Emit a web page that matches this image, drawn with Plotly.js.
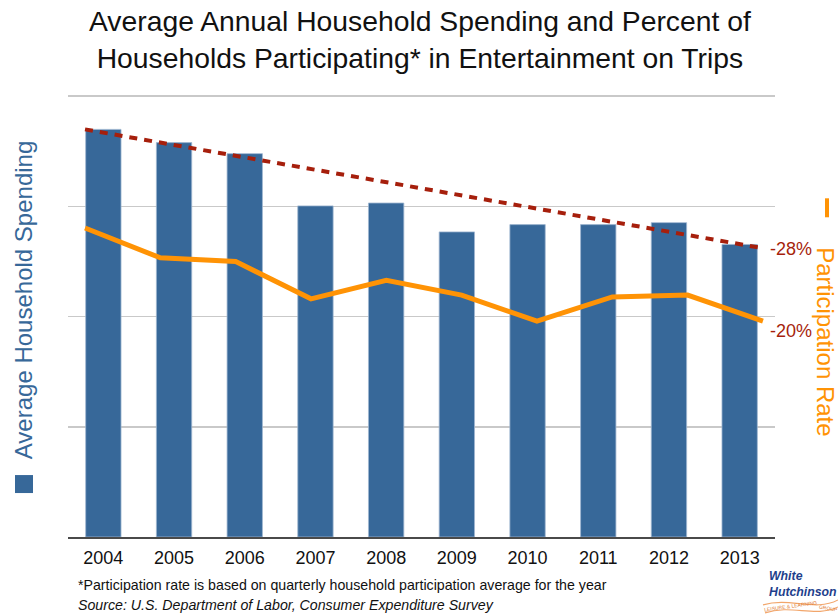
<!DOCTYPE html>
<html>
<head>
<meta charset="utf-8">
<script src="https://cdn.plot.ly/plotly-3.0.1.min.js"></script>
<style>
  html, body { margin: 0; padding: 0; background: #ffffff; }
  #chart { width: 838px; height: 616px; }
</style>
</head>
<body>
<div id="chart"></div>
<script>
// ---- Data (spending units estimated) ----
const years = ['2004', '2005', '2006', '2007', '2008', '2009', '2010', '2011', '2012', '2013'];
const spending = [184.9, 178.9, 173.9, 150.2, 151.5, 138.4, 141.7, 141.7, 142.6, 132.7];
const participation = [25.0, 23.4, 23.2, 21.2, 22.2, 21.4, 20.0, 21.3, 21.4, 20.0];
const trendYears = ['2004', '2013'];
const trendValues = [184.9, 131.0];
const spendingTicks = [0, 50, 100, 150, 200];

const lineYears = years.map(Number);
const trendX = trendYears.map(Number);
const spendChange = Math.round((spending[spending.length - 1] / spending[0] - 1) * 100);
const partChange = Math.round((participation[participation.length - 1] / participation[0] - 1) * 100);

// ---- geometry helpers (page px -> paper) ----
const W = 838, H = 616;
const mL = 68, mR = 63, mT = 94.6, mB = 79;
const pw = W - mL - mR, ph = H - mT - mB;
const px = x => (x - mL) / pw;
const py = y => (H - mB - y) / ph;

const FONT = '"Liberation Sans", Arial, Helvetica, sans-serif';
const BLUE = '#376899';
const ORANGE = '#ff9305';
const RED = '#a61f0c';

const traces = [
  {
    type: 'bar', x: years, y: spending, xaxis: 'x', yaxis: 'y',
    marker: { color: BLUE, line: { color: '#9fb6d0', width: 0.8 } },
    hoverinfo: 'x+y', showlegend: false
  },
  {
    type: 'scatter', mode: 'lines', x: trendX, y: trendValues, xaxis: 'x2', yaxis: 'y',
    line: { color: RED, width: 4, dash: '8px,7px' }, hoverinfo: 'skip', showlegend: false
  },
  {
    type: 'scatter', mode: 'lines', x: lineYears, y: participation, xaxis: 'x2', yaxis: 'y2',
    line: { color: ORANGE, width: 5, shape: 'linear' }, showlegend: false
  }
];

const layout = {
  width: W, height: H,
  margin: { l: mL, r: mR, t: mT, b: mB, pad: 0 },
  paper_bgcolor: '#ffffff', plot_bgcolor: '#ffffff',
  font: { family: FONT, color: '#111111' },
  showlegend: false,
  bargap: 0.5,
  xaxis: {
    type: 'category', range: [-0.5, 9.5], showgrid: false, zeroline: false,
    showline: true, linecolor: '#4a4a4a', linewidth: 1.5,
    ticks: '', tickfont: { size: 18, color: '#111111', family: FONT },
    ticklabelstandoff: 4, fixedrange: true
  },
  xaxis2: {
    overlaying: 'x', range: [2003.774, 2013.16], visible: false, fixedrange: true
  },
  yaxis: {
    range: [0, 200.5], tickvals: spendingTicks, showticklabels: false,
    showgrid: true, gridcolor: '#c9c9c9', gridwidth: 1.5, zeroline: false,
    showline: false, ticks: '', fixedrange: true
  },
  yaxis2: {
    overlaying: 'y', range: [8.425, 32.135], visible: false, fixedrange: true
  },
  shapes: [
    // legend square for spending
    { type: 'rect', xref: 'paper', yref: 'paper', x0: px(15), x1: px(33), y0: py(493), y1: py(475),
      fillcolor: BLUE, line: { width: 0 } },
    // legend line for participation
    { type: 'line', xref: 'paper', yref: 'paper', x0: px(827), x1: px(827), y0: py(217), y1: py(198),
      line: { color: ORANGE, width: 4 } },
    // logo swoosh
    { type: 'path', xref: 'paper', yref: 'paper',
      path: 'M ' + px(763) + ',' + py(605) + ' C ' + px(790) + ',' + py(597) + ' ' + px(815) + ',' + py(612) + ' ' + px(838) + ',' + py(600),
      line: { color: '#f2a66b', width: 1.2 } },
    { type: 'path', xref: 'paper', yref: 'paper',
      path: 'M ' + px(765) + ',' + py(613) + ' C ' + px(792) + ',' + py(604) + ' ' + px(815) + ',' + py(618) + ' ' + px(838) + ',' + py(607),
      line: { color: '#f2a66b', width: 1.2 } }
  ],
  annotations: [
    { text: 'Average Annual Household Spending and Percent of<br>Households Participating* in Entertainment on Trips',
      xref: 'paper', yref: 'paper', x: px(420), y: py(39), xanchor: 'center', yanchor: 'middle',
      showarrow: false, align: 'center', font: { size: 28.3, color: '#111111', family: FONT } },
    { text: 'Average Household Spending', xref: 'paper', yref: 'paper', x: px(23), y: py(300),
      xanchor: 'center', yanchor: 'middle', textangle: -90, showarrow: false,
      font: { size: 24, color: BLUE, family: FONT } },
    { text: 'Participation Rate', xref: 'paper', yref: 'paper', x: px(826), y: py(341),
      xanchor: 'center', yanchor: 'middle', textangle: 90, showarrow: false,
      font: { size: 24, color: ORANGE, family: FONT } },
    { text: spendChange + '%', xref: 'paper', yref: 'paper', x: px(768), y: py(249),
      xanchor: 'left', yanchor: 'middle', showarrow: false,
      font: { size: 18, color: RED, family: FONT } },
    { text: partChange + '%', xref: 'paper', yref: 'paper', x: px(768), y: py(331),
      xanchor: 'left', yanchor: 'middle', showarrow: false,
      font: { size: 18, color: RED, family: FONT } },
    { text: '*Participation rate is based on quarterly household participation average for the year',
      xref: 'paper', yref: 'paper', x: px(76), y: py(585), xanchor: 'left', yanchor: 'middle',
      showarrow: false, font: { size: 14.2, color: '#111111', family: FONT } },
    { text: '<i>Source: U.S. Department of Labor, Consumer Expenditure Survey</i>',
      xref: 'paper', yref: 'paper', x: px(76), y: py(605), xanchor: 'left', yanchor: 'middle',
      showarrow: false, font: { size: 14.2, color: '#111111', family: FONT } },
    // logo text
    { text: '<b><i>White<br>Hutchinson</i></b>', xref: 'paper', yref: 'paper', x: px(767), y: py(584),
      xanchor: 'left', yanchor: 'middle', showarrow: false, align: 'left',
      font: { size: 12.3, color: '#1f3f8c', family: FONT } },
    { text: 'LEISURE &amp; LEARNING', xref: 'paper', yref: 'paper', x: px(790), y: py(606),
      xanchor: 'center', yanchor: 'middle', showarrow: false, textangle: -8,
      font: { size: 5, color: '#e07a2e', family: FONT } },
    { text: 'GROUP', xref: 'paper', yref: 'paper', x: px(828), y: py(608),
      xanchor: 'center', yanchor: 'middle', showarrow: false, textangle: 10,
      font: { size: 5, color: '#e07a2e', family: FONT } }
  ]
};

Plotly.newPlot('chart', traces, layout, { displayModeBar: false, staticPlot: true });
</script>
</body>
</html>
